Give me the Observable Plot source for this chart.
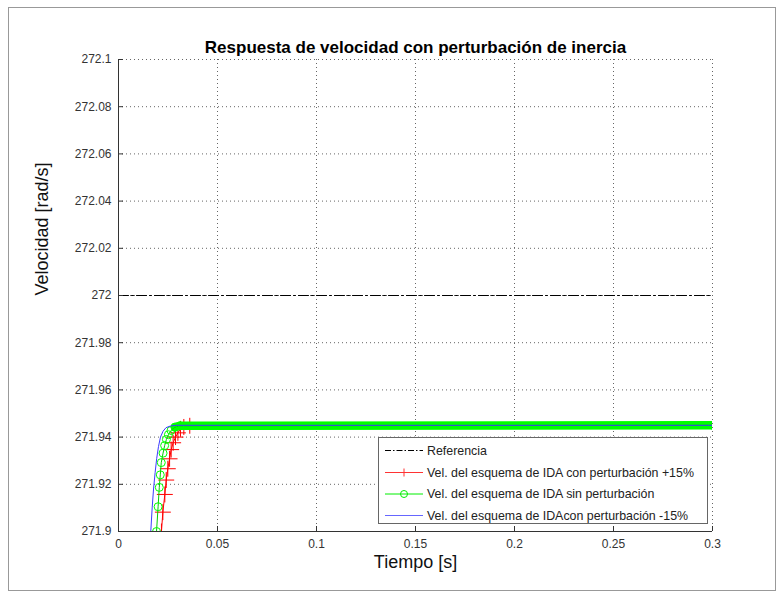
<!DOCTYPE html>
<html><head><meta charset="utf-8">
<script src="https://cdn.jsdelivr.net/npm/d3@7"></script>
<script src="https://cdn.jsdelivr.net/npm/@observablehq/plot@0.6"></script>
<style>
body{margin:0;background:#fff;}
#wrap{position:relative;width:783px;height:597px;overflow:hidden;}
#frame{position:absolute;left:8px;top:7px;width:766px;height:582px;border:1px solid #999;pointer-events:none;}
</style></head><body><div id="wrap"><div id="frame"></div></div>
<script>
// ---- data ----
const xTicks = [0, 0.05, 0.1, 0.15, 0.2, 0.25, 0.3];
const yTicks = [271.9, 271.92, 271.94, 271.96, 271.98, 272, 272.02, 272.04, 272.06, 272.08, 272.1];

const refTiempo = [0, 0.3];
const refVel = [272, 272];

// +15% inertia (red, + markers)
const rojoTiempo = [0.0212, 0.0217, 0.0224, 0.0234, 0.0241, 0.0249, 0.0258, 0.0266, 0.0276, 0.0288, 0.0300, 0.0313, 0.0330, 0.0360, 0.3];
const rojoVel    = [271.893, 271.900, 271.9082, 271.9157, 271.9218, 271.9266, 271.9308, 271.9347, 271.9376, 271.9400, 271.9418, 271.9435, 271.9443, 271.9448, 271.945];

// no perturbation (green, o markers)
const verdeTiempo = [0.0186, 0.0192, 0.0200, 0.0206, 0.0211, 0.0216, 0.0225, 0.0233, 0.0242, 0.0252, 0.0265, 0.0285, 0.0310, 0.3];
const verdeVel    = [271.890, 271.900, 271.9105, 271.9187, 271.9240, 271.9292, 271.9332, 271.9364, 271.9390, 271.9410, 271.9428, 271.9442, 271.9448, 271.945];

// -15% inertia (blue line)
const azulTiempo = [0.0158, 0.0163, 0.0170, 0.0177, 0.0185, 0.0193, 0.0202, 0.0212, 0.0225, 0.0240, 0.0262, 0.0290, 0.3];
const azulVel    = [271.893, 271.900, 271.910, 271.918, 271.925, 271.931, 271.936, 271.940, 271.9425, 271.944, 271.9447, 271.945, 271.945];

const leyenda = [
  "Referencia",
  "Vel. del esquema de IDA con perturbación +15%",
  "Vel. del esquema de IDA sin perturbación",
  "Vel. del esquema de IDAcon perturbación -15%"
];

const titulo = "Respuesta de velocidad con perturbación de inercia";
const etiquetaX = "Tiempo [s]";
const etiquetaY = "Velocidad [rad/s]";

// ---- tables ----
const zip = (t, v) => t.map((d, i) => ({t: d, v: v[i]}));
const ref = zip(refTiempo, refVel);
const rojo = zip(rojoTiempo, rojoVel);
const verde = zip(verdeTiempo, verdeVel);
const azul = zip(azulTiempo, azulVel);
const verdeMeseta = verde.filter(d => d.t >= 0.0285);

const fmt = d => String(+d.toFixed(3));
const W = 783, H = 597, ML = 118, MR = 71, MT = 59, MB = 66;
const PW = W - ML - MR, PH = H - MT - MB;
const font = "'Liberation Sans', Arial, sans-serif";

const chart = Plot.plot({
  width: W, height: H,
  marginLeft: ML, marginRight: MR, marginTop: MT, marginBottom: MB,
  x: {domain: [0, 0.3]},
  y: {domain: [271.9, 272.1]},
  style: {fontFamily: font, fontSize: "12px", color: "#333", background: "transparent"},
  marks: [
    Plot.gridX(xTicks, {stroke: "#666", strokeOpacity: 1, strokeDasharray: "1,3"}),
    Plot.gridY(yTicks, {stroke: "#666", strokeOpacity: 1, strokeDasharray: "1,3"}),
    Plot.line(ref, {x: "t", y: "v", stroke: "#000", strokeWidth: 1, strokeDasharray: "10,3,2,3"}),
    Plot.line(rojo, {x: "t", y: "v", stroke: "#ff0000", strokeWidth: 1, clip: true}),
    Plot.dot(rojo, {x: "t", y: "v", symbol: "plus", r: 5.2, stroke: "#ff0000", strokeWidth: 1, clip: true}),
    Plot.line(verdeMeseta, {x: "t", y: "v", stroke: "#00ff00", strokeWidth: 8.5, strokeLinecap: "round", clip: true}),
    Plot.line(verde, {x: "t", y: "v", stroke: "#00cc00", strokeWidth: 1, clip: true}),
    Plot.dot(verde, {x: "t", y: "v", symbol: "circle", r: 4, stroke: "#00ff00", fill: "none", strokeWidth: 1, clip: true}),
    Plot.line(azul, {x: "t", y: "v", stroke: "#3b3bff", strokeWidth: 1, clip: true}),
    Plot.ruleX([0], {stroke: "#333", strokeWidth: 1}),
    Plot.ruleY([271.9], {stroke: "#333", strokeWidth: 1}),
    Plot.tickX(xTicks, {x: d => d, stroke: "#333", insetTop: PH - 5}),
    Plot.tickY(yTicks, {y: d => d, stroke: "#333", insetRight: PW - 5}),
    Plot.axisX(xTicks, {tickSize: 0, tickPadding: 8, tickFormat: fmt, fontSize: 12, label: null}),
    Plot.axisY(yTicks, {tickSize: 0, tickPadding: 7, tickFormat: fmt, fontSize: 12, label: null}),
    Plot.text([titulo], {frameAnchor: "top", dy: -19, fontSize: 17, fontWeight: "bold", fill: "#000"}),
    Plot.text([etiquetaX], {frameAnchor: "bottom", dy: 36, fontSize: 18, fill: "#111"}),
    Plot.text([etiquetaY], {frameAnchor: "left", dx: -76, rotate: -90, fontSize: 18, fill: "#111"})
  ]
});

document.getElementById("wrap").prepend(chart);

// ---- legend ----
const svg = d3.select(chart);
const lg = svg.append("g").attr("font-family", font).attr("font-size", 12.4)
  .attr("fill", "#222").attr("text-anchor", "start");
const bx = 378, by = 437, bw = 329, bh = 86;
lg.append("rect").attr("x", bx + 0.5).attr("y", by + 0.5).attr("width", bw).attr("height", bh)
  .attr("fill", "#fff").attr("stroke", "#666");
const rows = [450, 472, 493.5, 515];
const estilos = [
  {stroke: "#000", dash: "6,2,1.5,2"},
  {stroke: "#ff3333", dash: null, mark: "plus"},
  {stroke: "#00ee00", dash: null, mark: "circle"},
  {stroke: "#6666ff", dash: null}
];
leyenda.forEach((txt, i) => {
  const y = rows[i] + 0.5, s = estilos[i];
  lg.append("line").attr("x1", 385).attr("x2", 423).attr("y1", y).attr("y2", y)
    .attr("stroke", s.stroke).attr("stroke-width", 1).attr("stroke-dasharray", s.dash);
  if (s.mark === "plus") {
    lg.append("path").attr("d", `M400,${y}h8M404,${y - 4}v8`).attr("stroke", s.stroke).attr("fill", "none");
  } else if (s.mark === "circle") {
    lg.append("circle").attr("cx", 404).attr("cy", y).attr("r", 3.5).attr("stroke", s.stroke).attr("fill", "none");
  }
  lg.append("text").attr("x", 427).attr("y", y).attr("dy", "0.35em").attr("text-anchor", "start").text(txt);
});
</script>
</body></html>
